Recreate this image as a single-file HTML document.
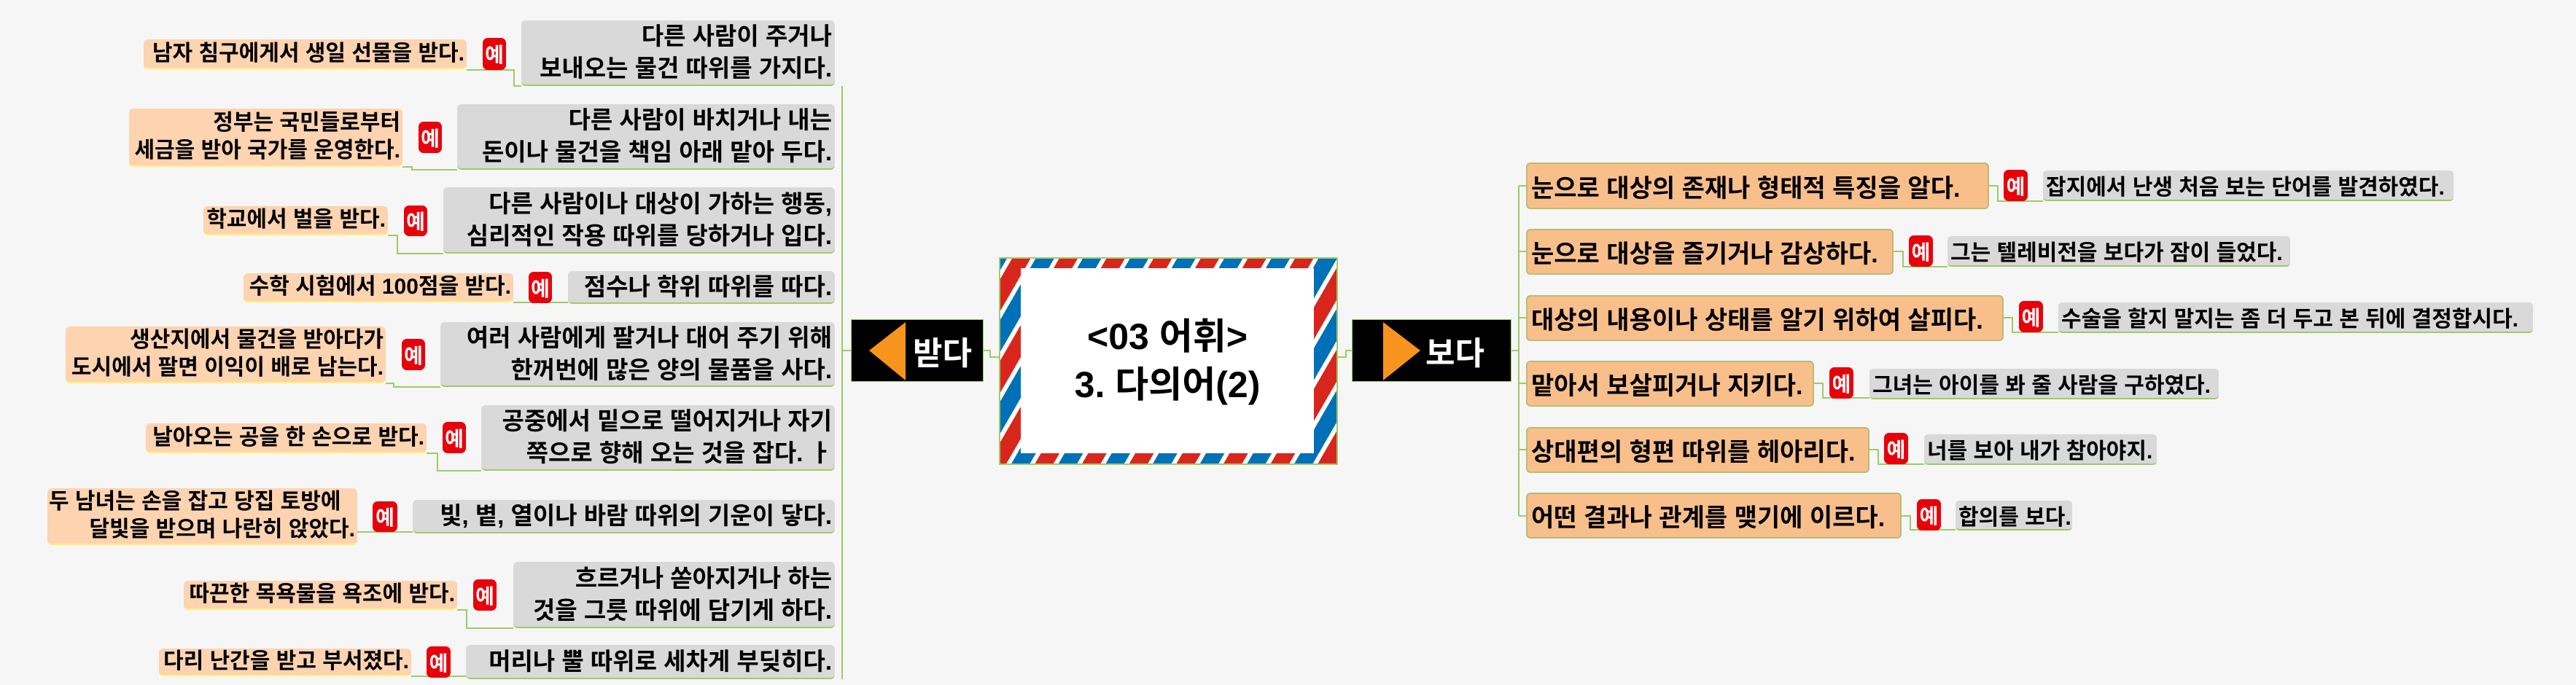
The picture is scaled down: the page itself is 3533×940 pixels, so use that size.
<!DOCTYPE html>
<html><head><meta charset="utf-8">
<style>
html,body{margin:0;padding:0}
body{width:3533px;height:940px;background:#f6f6f6;position:relative;overflow:hidden;font-family:"Liberation Sans","Noto Sans CJK KR","NanumGothic",sans-serif;font-weight:bold;color:#000}
.a{position:absolute;box-sizing:border-box;white-space:nowrap}
.def{background:#d9d9d9;border-radius:6px;border-bottom:2px solid #9ccc65;font-size:33px;line-height:44px;text-align:right;padding-right:4px;display:flex;flex-direction:column;justify-content:center;align-items:flex-end}
.ex{background:#fdd3b0;border-radius:6px;border-bottom:2px solid #fff176;font-size:30px;line-height:38px;text-align:right;padding-right:3px;display:flex;flex-direction:column;justify-content:center;align-items:flex-end}
.ye{background:#e8000b;border-radius:7px;color:#fff;font-size:28px;display:flex;align-items:center;justify-content:center}
.ob{background:#f9bf8b;border:2px solid #b9bc74;border-radius:6px;font-size:34px;display:flex;align-items:center;padding-left:5px}
.gx{background:#d9d9d9;border-radius:5px;border-bottom:2px solid #9ccc65;font-size:30px;display:flex;align-items:center;padding-left:4px}
</style></head><body>

<svg class="a" style="left:0;top:0" width="3533" height="940">
<g stroke="#9ccc65" stroke-width="2" fill="none">
<line x1="1155" y1="118" x2="1155" y2="932"/>
<polyline points="1349,481 1358,481 1358,490 1370,490"/>
<polyline points="1155,481 1167,481"/>
<polyline points="1835,490 1846,490 1846,481 1854,481"/>
<polyline points="2073,481 2083,481"/>
<line x1="2083" y1="255" x2="2083" y2="708"/>
<line x1="2083" y1="255" x2="2093" y2="255"/>
<line x1="2083" y1="345" x2="2093" y2="345"/>
<line x1="2083" y1="436" x2="2093" y2="436"/>
<line x1="2083" y1="526" x2="2093" y2="526"/>
<line x1="2083" y1="617" x2="2093" y2="617"/>
<line x1="2083" y1="708" x2="2093" y2="708"/>
<polyline points="640,96 705,96 705,118 715,118"/>
<polyline points="552,229 565,229 565,233 627,233"/>
<polyline points="532,323 545,323 545,348 608,348"/>
<polyline points="704,415 779,415"/>
<polyline points="529,526 540,526 540,531 604,531"/>
<polyline points="585,622 600,622 600,646 660,646"/>
<polyline points="490,730 566,730"/>
<polyline points="627,837 640,837 640,862 704,862"/>
<polyline points="564,928 639,928"/>
<polyline points="2728,255 2740,255 2740,276 2802,276"/>
<polyline points="2597,345 2610,345 2610,366 2671,366"/>
<polyline points="2748,436 2760,436 2760,456 2823,456"/>
<polyline points="2488,526 2500,526 2500,546 2564,546"/>
<polyline points="2564,617 2576,617 2576,637 2639,637"/>
<polyline points="2608,708 2620,708 2620,727 2682,727"/>
</g>
</svg>

<!-- center -->
<div class="a" style="left:1370px;top:353px;width:465px;height:285px;border:2px solid #9ccc65;background:repeating-linear-gradient(-60deg,#d9261c 0 22px,#fff 22px 28px,#0070b8 28px 50px,#fff 50px 56px)"></div>
<div class="a" style="left:1400px;top:368px;width:402px;height:254px;background:#fff;display:flex;flex-direction:column;align-items:center;justify-content:center;font-size:50px;line-height:66px;text-align:center">
<div>&lt;03 어휘&gt;</div><div>3. 다의어(2)</div></div>

<div class="a" style="left:1167px;top:438px;width:182px;height:86px;background:#000;border:1px solid #9ccc65"></div>
<svg class="a" style="left:1167px;top:438px" width="182" height="86"><polygon points="25,43 75,4 75,84" fill="#f7941d"/></svg>
<div class="a" style="left:1252px;top:438px;width:95px;height:86px;color:#fff;font-size:44px;display:flex;align-items:center">받다</div>

<div class="a" style="left:1854px;top:438px;width:219px;height:86px;background:#000;border:1px solid #9ccc65"></div>
<svg class="a" style="left:1854px;top:438px" width="219" height="86"><polygon points="43,4 94,43 43,84" fill="#f7941d"/></svg>
<div class="a" style="left:1955px;top:438px;width:110px;height:86px;color:#fff;font-size:44px;display:flex;align-items:center">보다</div>

<!-- left rows -->
<div class="a def" style="left:715px;top:28px;width:430px;height:90px"><div>다른 사람이 주거나</div><div>보내오는 물건 따위를 가지다.</div></div>
<div class="a ye" style="left:662px;top:52px;width:32px;height:44px">예</div>
<div class="a ex" style="left:197px;top:54px;width:443px;height:41px"><div>남자 침구에게서 생일 선물을 받다.</div></div>

<div class="a def" style="left:627px;top:143px;width:518px;height:90px"><div>다른 사람이 바치거나 내는</div><div>돈이나 물건을 책임 아래 맡아 두다.</div></div>
<div class="a ye" style="left:574px;top:167px;width:32px;height:43px">예</div>
<div class="a ex" style="left:177px;top:149px;width:375px;height:80px"><div>정부는 국민들로부터</div><div>세금을 받아 국가를 운영한다.</div></div>

<div class="a def" style="left:608px;top:257px;width:537px;height:91px"><div>다른 사람이나 대상이 가하는 행동,</div><div>심리적인 작용 따위를 당하거나 입다.</div></div>
<div class="a ye" style="left:554px;top:282px;width:32px;height:42px">예</div>
<div class="a ex" style="left:279px;top:283px;width:253px;height:40px"><div>학교에서 벌을 받다.</div></div>

<div class="a def" style="left:779px;top:372px;width:366px;height:45px"><div>점수나 학위 따위를 따다.</div></div>
<div class="a ye" style="left:725px;top:373px;width:32px;height:43px">예</div>
<div class="a ex" style="left:334px;top:375px;width:370px;height:40px"><div>수학 시험에서 100점을 받다.</div></div>

<div class="a def" style="left:604px;top:442px;width:541px;height:89px"><div>여러 사람에게 팔거나 대어 주기 위해</div><div>한꺼번에 많은 양의 물품을 사다.</div></div>
<div class="a ye" style="left:551px;top:465px;width:32px;height:43px">예</div>
<div class="a ex" style="left:90px;top:448px;width:439px;height:78px"><div>생산지에서 물건을 받아다가</div><div>도시에서 팔면 이익이 배로 남는다.</div></div>

<div class="a def" style="left:660px;top:556px;width:485px;height:90px"><div>공중에서 밑으로 떨어지거나 자기</div><div>쪽으로 향해 오는 것을 잡다. ㅏ</div></div>
<div class="a ye" style="left:607px;top:579px;width:32px;height:43px">예</div>
<div class="a ex" style="left:200px;top:581px;width:385px;height:41px"><div>날아오는 공을 한 손으로 받다.</div></div>

<div class="a def" style="left:566px;top:686px;width:579px;height:46px"><div>빛, 볕, 열이나 바람 따위의 기운이 닿다.</div></div>
<div class="a ye" style="left:511px;top:688px;width:34px;height:42px">예</div>
<div class="a ex" style="left:65px;top:670px;width:425px;height:78px"><div style="align-self:flex-start;padding-left:2px">두 남녀는 손을 잡고 당집 토방에</div><div>달빛을 받으며 나란히 앉았다.</div></div>

<div class="a def" style="left:704px;top:771px;width:441px;height:91px"><div>흐르거나 쏟아지거나 하는</div><div>것을 그릇 따위에 담기게 하다.</div></div>
<div class="a ye" style="left:649px;top:795px;width:32px;height:43px">예</div>
<div class="a ex" style="left:252px;top:797px;width:375px;height:40px"><div>따끈한 목욕물을 욕조에 받다.</div></div>

<div class="a def" style="left:639px;top:885px;width:506px;height:47px"><div>머리나 뿔 따위로 세차게 부딪히다.</div></div>
<div class="a ye" style="left:585px;top:887px;width:33px;height:43px">예</div>
<div class="a ex" style="left:218px;top:890px;width:346px;height:38px"><div>다리 난간을 받고 부서졌다.</div></div>

<!-- right rows -->
<div class="a ob" style="left:2093px;top:223px;width:635px;height:64px">눈으로 대상의 존재나 형태적 특징을 알다.</div>
<div class="a ye" style="left:2748px;top:233px;width:33px;height:43px">예</div>
<div class="a gx" style="left:2802px;top:234px;width:563px;height:42px">잡지에서 난생 처음 보는 단어를 발견하였다.</div>

<div class="a ob" style="left:2093px;top:314px;width:504px;height:63px">눈으로 대상을 즐기거나 감상하다.</div>
<div class="a ye" style="left:2618px;top:323px;width:33px;height:43px">예</div>
<div class="a gx" style="left:2671px;top:324px;width:470px;height:42px">그는 텔레비전을 보다가 잠이 들었다.</div>

<div class="a ob" style="left:2093px;top:405px;width:655px;height:63px">대상의 내용이나 상태를 알기 위하여 살피다.</div>
<div class="a ye" style="left:2769px;top:413px;width:33px;height:43px">예</div>
<div class="a gx" style="left:2823px;top:415px;width:651px;height:42px">수술을 할지 말지는 좀 더 두고 본 뒤에 결정합시다.</div>

<div class="a ob" style="left:2093px;top:495px;width:395px;height:63px">맡아서 보살피거나 지키다.</div>
<div class="a ye" style="left:2509px;top:504px;width:33px;height:43px">예</div>
<div class="a gx" style="left:2564px;top:506px;width:479px;height:42px">그녀는 아이를 봐 줄 사람을 구하였다.</div>

<div class="a ob" style="left:2093px;top:586px;width:471px;height:63px">상대편의 형편 따위를 헤아리다.</div>
<div class="a ye" style="left:2584px;top:594px;width:33px;height:43px">예</div>
<div class="a gx" style="left:2639px;top:596px;width:319px;height:42px">너를 보아 내가 참아야지.</div>

<div class="a ob" style="left:2093px;top:676px;width:515px;height:63px">어떤 결과나 관계를 맺기에 이르다.</div>
<div class="a ye" style="left:2629px;top:685px;width:33px;height:43px">예</div>
<div class="a gx" style="left:2682px;top:687px;width:160px;height:41px">합의를 보다.</div>

</body></html>
